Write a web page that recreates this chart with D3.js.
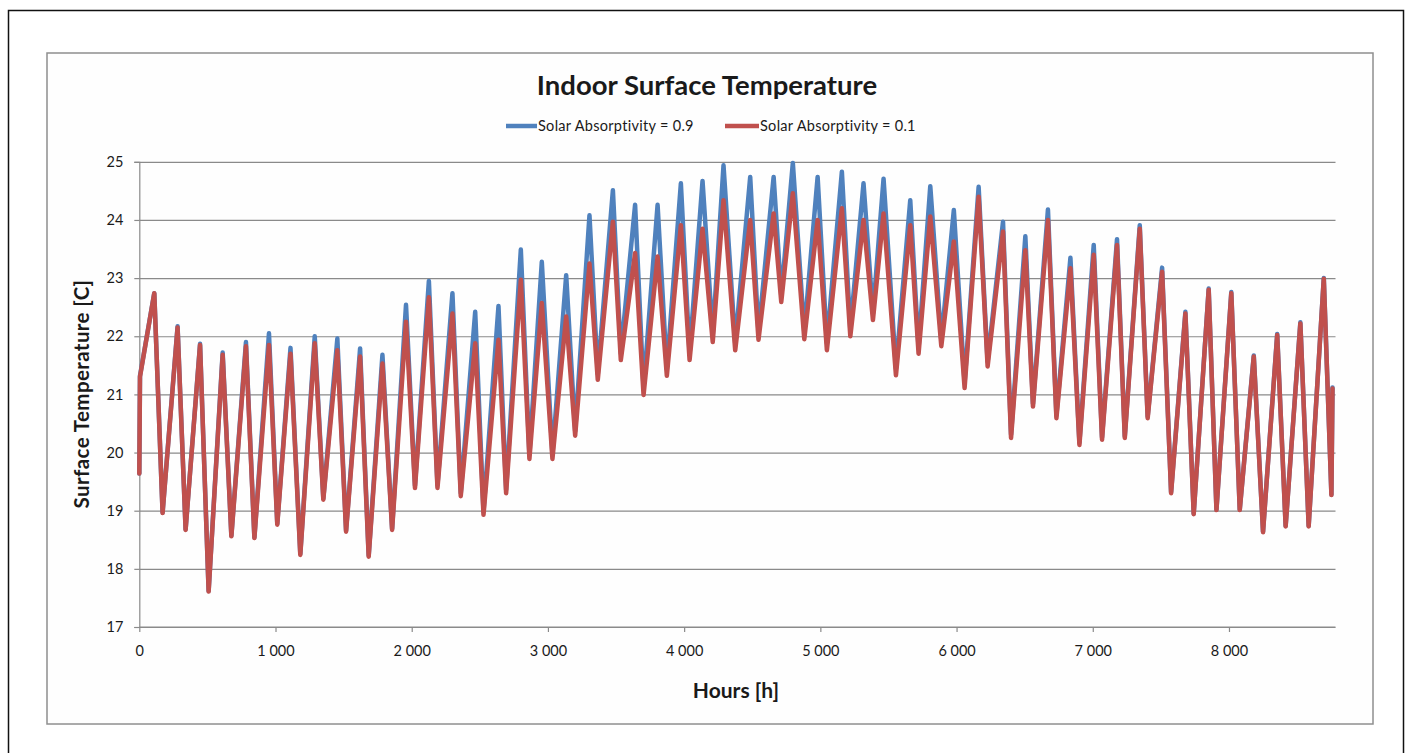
<!DOCTYPE html>
<html>
<head>
<meta charset="utf-8">
<script src="https://cdn.jsdelivr.net/npm/d3@7"></script>
<style>
  html, body { margin: 0; padding: 0; background: #ffffff; }
  svg { display: block; }
  text { font-family: Lato, "Open Sans", sans-serif; fill: #1a1a1a; }
</style>
</head>
<body>
<svg id="chart" width="1410" height="753"></svg>
<script>
// ---------------- data ----------------
const chartTitle = "Indoor Surface Temperature";
const xTitle = "Hours [h]";
const yTitle = "Surface Temperature [C]";
const seriesNames = ["Solar Absorptivity = 0.9", "Solar Absorptivity = 0.1"];

const xTickValues = [0, 1000, 2000, 3000, 4000, 5000, 6000, 7000, 8000];
const xTickLabels = ["0", "1 000", "2 000", "3 000", "4 000", "5 000", "6 000", "7 000", "8 000"];
const yTickValues = [17, 18, 19, 20, 21, 22, 23, 24, 25];

// first points of the year and last point
const startHours = [0, 5];
const startRed = [19.64, 21.30];
const startBlue = [19.64, 21.32];
const endHour = 8760;
const endRed = 21.10;
const endBlue = 21.12;

// weekly peaks (end of working week)
const peakHours = [110, 281, 446, 612, 783, 952, 1110, 1288, 1454, 1621, 1785, 1958, 2126, 2299, 2466, 2637, 2801, 2955, 3134, 3305,
  3477, 3640, 3805, 3976, 4135, 4289, 4485, 4657, 4798, 4980, 5158, 5317, 5464, 5660, 5807, 5980, 6162, 6341, 6505, 6671,
  6836, 7007, 7178, 7345, 7509, 7680, 7851, 8017, 8182, 8354, 8524, 8696];
const peakBlue = [22.74, 22.17, 21.87, 21.72, 21.90, 22.05, 21.80, 22.00, 21.96, 21.79, 21.68, 22.54, 22.95, 22.74, 22.42, 22.52, 23.49, 23.28, 23.05, 24.08,
  24.51, 24.26, 24.26, 24.63, 24.67, 24.94, 24.74, 24.74, 24.98, 24.74, 24.83, 24.63, 24.71, 24.34, 24.58, 24.17, 24.57, 23.97, 23.72, 24.18,
  23.35, 23.57, 23.67, 23.91, 23.18, 22.42, 22.82, 22.76, 21.67, 22.04, 22.24, 23.00];
const peakRed = [22.74, 22.15, 21.85, 21.68, 21.83, 21.85, 21.70, 21.88, 21.76, 21.65, 21.53, 22.25, 22.67, 22.39, 21.88, 21.94, 22.97, 22.57, 22.34, 23.25,
  23.97, 23.43, 23.37, 23.91, 23.85, 24.34, 24.00, 24.11, 24.46, 24.00, 24.20, 24.00, 24.11, 23.91, 24.06, 23.63, 24.40, 23.80, 23.48, 24.00,
  23.17, 23.40, 23.57, 23.85, 23.11, 22.39, 22.80, 22.74, 21.65, 22.02, 22.22, 22.99];

// weekly troughs (end of weekend)
const troughHours = [171, 340, 509, 676, 845, 1013, 1182, 1351, 1518, 1684, 1856, 2024, 2189, 2360, 2527, 2693, 2864, 3033, 3200, 3366,
  3535, 3702, 3873, 4040, 4210, 4375, 4546, 4713, 4882, 5048, 5220, 5386, 5555, 5721, 5888, 6059, 6228, 6400, 6561, 6733,
  6902, 7068, 7235, 7403, 7575, 7741, 7908, 8079, 8250, 8416, 8585, 8752];
const troughBlue = [18.97, 18.68, 17.62, 18.57, 18.54, 18.78, 18.26, 19.21, 18.66, 18.23, 18.69, 19.43, 19.44, 19.30, 18.98, 19.36, 19.96, 19.96, 20.37, 21.35,
  21.70, 21.10, 21.43, 21.70, 22.02, 21.88, 22.06, 22.70, 22.07, 21.88, 22.12, 22.39, 21.44, 21.80, 21.93, 21.20, 21.56, 20.31, 20.84, 20.64,
  20.17, 20.26, 20.28, 20.62, 19.32, 18.95, 19.02, 19.02, 18.64, 18.74, 18.74, 19.28];
const troughRed = [18.96, 18.67, 17.61, 18.56, 18.53, 18.76, 18.24, 19.19, 18.64, 18.21, 18.67, 19.39, 19.39, 19.25, 18.93, 19.30, 19.89, 19.89, 20.29, 21.25,
  21.59, 20.99, 21.32, 21.59, 21.90, 21.76, 21.94, 22.59, 21.95, 21.76, 22.00, 22.28, 21.33, 21.70, 21.83, 21.11, 21.48, 20.25, 20.79, 20.59,
  20.13, 20.22, 20.25, 20.59, 19.30, 18.94, 19.01, 19.01, 18.63, 18.73, 18.73, 19.27];

const colorBlue = "#4F81BD";
const colorRed = "#C0504D";

// ---------------- build point lists from the arrays ----------------
function buildSeries(startVals, peaks, troughs, endVal) {
  const pts = startHours.map((h, i) => ({ h: h, v: startVals[i] }));
  peakHours.forEach((h, i) => {
    pts.push({ h: h, v: peaks[i] });
    pts.push({ h: troughHours[i], v: troughs[i] });
  });
  pts.push({ h: endHour, v: endVal });
  return pts;
}
const blueSeries = buildSeries(startBlue, peakBlue, troughBlue, endBlue);
const redSeries = buildSeries(startRed, peakRed, troughRed, endRed);

// ---------------- layout ----------------
const svg = d3.select("#chart");
const plot = { left: 139.3, right: 1332.5, top: 161.8, bottom: 627 };
const axisColor = "#8a8a8a";

// outer frame
svg.append("rect").attr("x", 8.5).attr("y", 10.5).attr("width", 1395).attr("height", 760)
  .attr("fill", "#ffffff").attr("stroke", "#111").attr("stroke-width", 1.5);
// chart area
svg.append("rect").attr("x", 47).attr("y", 53).attr("width", 1326).attr("height", 671)
  .attr("fill", "#fefefe").attr("stroke", "#8f8f8f").attr("stroke-width", 1.5);

const x = d3.scaleLinear().domain([0, 8760]).range([plot.left, plot.right]);
const y = d3.scaleLinear().domain([17, 25]).range([plot.bottom, plot.top]);

// horizontal gridlines
const gridG = svg.append("g").attr("transform", `translate(${plot.left},0)`)
  .call(d3.axisLeft(y).tickValues(yTickValues).tickSize(-(plot.right + 3 - plot.left)).tickFormat(""));
gridG.select(".domain").remove();
gridG.selectAll(".tick line").attr("stroke", axisColor).attr("stroke-width", 1.2);

// y axis
const yAxisG = svg.append("g").attr("transform", `translate(${plot.left},0)`)
  .call(d3.axisLeft(y).tickValues(yTickValues).tickSize(5).tickPadding(11).tickFormat(d3.format("d")));
yAxisG.select(".domain").attr("stroke", axisColor).attr("stroke-width", 1.2);
yAxisG.selectAll(".tick line").attr("stroke", axisColor).attr("stroke-width", 1.2);
yAxisG.selectAll(".tick text").style("font-family", "Lato, sans-serif").style("font-size", "14.5px").attr("fill", "#1a1a1a");

// x axis
const xAxisG = svg.append("g").attr("transform", `translate(0,${plot.bottom})`)
  .call(d3.axisBottom(x).tickValues(xTickValues).tickSize(5).tickPadding(14)
    .tickFormat((d, i) => xTickLabels[i]));
xAxisG.select(".domain").attr("d", `M${plot.left},0H${plot.right + 3}`).attr("stroke", axisColor).attr("stroke-width", 1.2);
xAxisG.selectAll(".tick line").attr("stroke", axisColor).attr("stroke-width", 1.2);
xAxisG.selectAll(".tick text").style("font-family", "Lato, sans-serif").style("font-size", "14.5px").attr("fill", "#1a1a1a");

// lines
const line = d3.line().x(d => x(d.h)).y(d => y(d.v));
svg.append("path").datum(blueSeries).attr("d", line).attr("fill", "none")
  .attr("stroke", colorBlue).attr("stroke-width", 4.5).attr("stroke-linejoin", "round").attr("stroke-linecap", "round");
svg.append("path").datum(redSeries).attr("d", line).attr("fill", "none")
  .attr("stroke", colorRed).attr("stroke-width", 4.5).attr("stroke-linejoin", "round").attr("stroke-linecap", "round");

// titles
svg.append("text").attr("x", 707).attr("y", 95).attr("text-anchor", "middle")
  .style("font-size", "27.5px").style("font-weight", "bold").text(chartTitle);
svg.append("text").attr("x", 736).attr("y", 698).attr("text-anchor", "middle")
  .style("font-size", "21px").style("font-weight", "bold").text(xTitle);
svg.append("text").attr("transform", "translate(89,394) rotate(-90)").attr("text-anchor", "middle")
  .style("font-size", "20.5px").style("font-weight", "bold").style("letter-spacing", "0.4px").text(yTitle);

// legend
const legend = [
  { name: seriesNames[0], color: colorBlue, x1: 506, x2: 537 },
  { name: seriesNames[1], color: colorRed, x1: 725, x2: 759 }
];
const lg = svg.append("g");
legend.forEach(l => {
  lg.append("line").attr("x1", l.x1).attr("x2", l.x2).attr("y1", 126).attr("y2", 126)
    .attr("stroke", l.color).attr("stroke-width", 4.5);
  lg.append("text").attr("x", l.x2 + 1).attr("y", 130.5).style("font-size", "14.5px")
    .style("letter-spacing", "0.3px").text(l.name);
});
</script>
</body>
</html>
